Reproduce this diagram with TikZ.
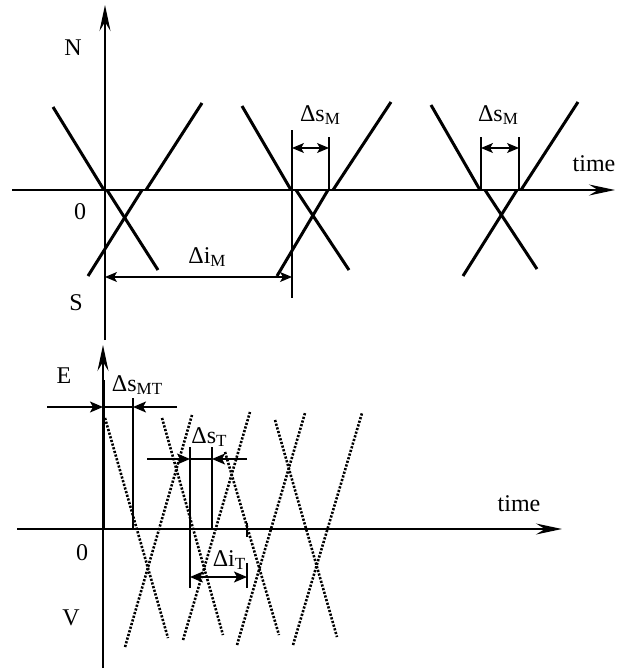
\documentclass[tikz,border=0pt]{standalone}
\usepackage{fontspec}
\setmainfont{Liberation Serif}
\usetikzlibrary{arrows.meta}
\newcommand{\lowsub}[1]{\raisebox{-3pt}{\fontsize{17}{17}\selectfont #1}}
\begin{document}
\begin{tikzpicture}[x=1pt,y=-1pt,
  axis/.style={line width=1.4pt,-{Stealth[length=26pt,width=11pt,inset=9pt]}},
  xline/.style={line width=3pt},
  dimline/.style={line width=1.2pt},
  dimarrow/.style={line width=1.2pt,{Stealth[length=12pt,width=10pt,inset=3pt]}-{Stealth[length=12pt,width=10pt,inset=3pt]}},
  headarrow/.style={line width=1.4pt,-{Stealth[length=13pt,width=11pt,inset=3pt]}},
  dotline/.style={line width=2.6pt,dash pattern=on 2.2pt off 1.6pt},
  lbl/.style={inner sep=0pt,font=\fontsize{24}{28}\selectfont}]
\fill[white] (0,0) rectangle (629,670);
\useasboundingbox (0,0) rectangle (629,670);

% ---------- top diagram ----------
\coordinate (tvb) at (105,340);
\coordinate (tvt) at (105,5);
\coordinate (thl) at (12,190);
\coordinate (thr) at (615,190);
\draw[axis] (tvb) -- (tvt);
\draw[axis] (thl) -- (thr);

\node[lbl] (N) at (73,48) {N};
\node[lbl] (z1) at (80,212) {0};
\node[lbl] (S) at (76,303) {S};
\node[lbl] (time1) at (594,164) {time};

% X shapes (each line broken at the axis)
\draw[xline] (53,107) -- (104,190) (107,190) -- (158,270);
\draw[xline] (88,276) -- (142,190) (146,190) -- (202,103);
\draw[xline] (242,106) -- (291,190) (296,190) -- (349,270);
\draw[xline] (277,276) -- (328,190) (333,190) -- (391,102);
\draw[xline] (431,105) -- (480,190) (485,190) -- (537,269);
\draw[xline] (463,276) -- (517,190) (521,190) -- (578,102);

% dimension lines
\coordinate (a2t) at (292,130); \coordinate (a2b) at (292,298);
\coordinate (b2t) at (329,137); \coordinate (b2b) at (329,190);
\draw[dimline] (a2t) -- (a2b);
\draw[dimline] (b2t) -- (b2b);
\coordinate (d2l) at (292,148); \coordinate (d2r) at (329,148);
\draw[dimarrow] (d2l) -- (d2r);
\node[lbl] (dsm1) at (320,115) {Δs\lowsub{M}};

\coordinate (a3t) at (481,137); \coordinate (a3b) at (481,190);
\coordinate (b3t) at (519,137); \coordinate (b3b) at (519,190);
\draw[dimline] (a3t) -- (a3b);
\draw[dimline] (b3t) -- (b3b);
\coordinate (d3l) at (481,148); \coordinate (d3r) at (519,148);
\draw[dimarrow] (d3l) -- (d3r);
\node[lbl] (dsm2) at (498,115) {Δs\lowsub{M}};

\coordinate (iml) at (105,277); \coordinate (imr) at (292,277);
\draw[dimarrow] (iml) -- (imr);
\node[lbl] (dim) at (207,257) {Δi\lowsub{M}};

% ---------- bottom diagram ----------
\coordinate (bvb) at (103,668);
\coordinate (bvt) at (103,345);
\coordinate (bhl) at (17,529);
\coordinate (bhr) at (562,529);
\draw[axis] (bvb) -- (bvt);
\draw[axis] (bhl) -- (bhr);
\draw[line width=3pt] (103,380) -- (103,529);

\node[lbl] (E) at (64,376) {E};
\node[lbl] (z2) at (82,553) {0};
\node[lbl] (V) at (71,618) {V};
\node[lbl] (time2) at (519,504) {time};

% dotted X lines
\draw[dotline] (105,418) -- (168,638);
\draw[dotline] (125,647) -- (192,415);
\draw[dotline] (162,418) -- (223,635);
\draw[dotline] (183,640) -- (250,412);
\draw[dotline] (225,452) -- (279,635);
\draw[dotline] (237,645) -- (305,413);
\draw[dotline] (275,420) -- (337,637);
\draw[dotline] (293,645) -- (362,413);

% Delta s_MT
\coordinate (mtv1) at (133,398); \coordinate (mtv2) at (133,529);
\draw[line width=2pt] (mtv1) -- (mtv2);
\coordinate (mtl) at (47,407); \coordinate (mtA) at (103,407);
\coordinate (mtB) at (133,407); \coordinate (mtr) at (177,407);
\draw[headarrow] (mtl) -- (mtA);
\draw[headarrow] (mtr) -- (mtB);
\draw[line width=1.4pt] (mtA) -- (mtB);
\node[lbl] (dsmt) at (137,385) {Δs\lowsub{MT}};

% Delta s_T
\coordinate (tv1t) at (190,447); \coordinate (tv1b) at (190,588);
\coordinate (tv2t) at (212,447); \coordinate (tv2b) at (212,529);
\draw[line width=1.6pt] (tv1t) -- (tv1b);
\draw[line width=1.6pt] (tv2t) -- (tv2b);
\coordinate (stl) at (147,459); \coordinate (stA) at (190,459);
\coordinate (stB) at (212,459); \coordinate (str) at (247,459);
\draw[headarrow] (stl) -- (stA);
\draw[headarrow] (str) -- (stB);
\draw[line width=1.4pt] (stA) -- (stB);
\node[lbl] (dst) at (209,437) {Δs\lowsub{T}};

% Delta i_T
\draw[line width=1.4pt] (247,523) -- (247,537);
\coordinate (itv1) at (247,563); \coordinate (itv2) at (247,588);
\draw[line width=1.4pt] (itv1) -- (itv2);
\coordinate (itl) at (190,577); \coordinate (itr) at (247,577);
\draw[line width=1.4pt,{Stealth[length=13pt,width=11pt,inset=3pt]}-{Stealth[length=13pt,width=11pt,inset=3pt]}] (itl) -- (itr);
\node[lbl] (dit) at (229,560) {Δi\lowsub{T}};
\end{tikzpicture}
\end{document}
